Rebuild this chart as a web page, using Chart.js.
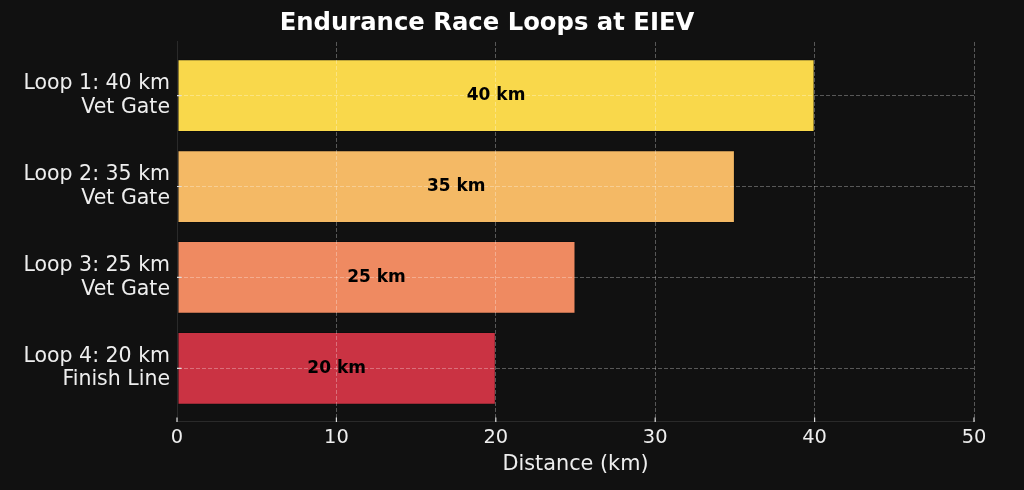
<!DOCTYPE html>
<html>
<head>
<meta charset="utf-8">
<script src="https://cdn.jsdelivr.net/npm/chart.js@4"></script>
<style>
  html, body { margin: 0; padding: 0; background: #111111; }
  #wrap { width: 1024px; height: 490px; }
</style>
</head>
<body>
<div id="wrap"><canvas id="c" width="1024" height="490"></canvas></div>
<script>
const loopNames = ['Loop 1: 40 km', 'Loop 2: 35 km', 'Loop 3: 25 km', 'Loop 4: 20 km'];
const checkpoints = ['Vet Gate', 'Vet Gate', 'Vet Gate', 'Finish Line'];
const distances = [40, 35, 25, 20];
const barLabels = ['40 km', '35 km', '25 km', '20 km'];
const xTicks = [0, 10, 20, 30, 40, 50];
const barColors = ['#F9D84B', '#F4B965', '#EF8A61', '#CA3343'];

const FONT = "'DejaVu Sans', 'Liberation Sans', sans-serif";
const TEXT = '#eeeeee';
const GRID = 'rgba(255,255,255,0.3)';

const overlay = {
  id: 'overlay',
  afterDraw(chart) {
    const ctx = chart.ctx;
    const xs = chart.scales.x, ys = chart.scales.y;
    const area = chart.chartArea;
    ctx.save();
    // inward tick marks
    ctx.strokeStyle = '#dddddd';
    ctx.lineWidth = 1.2;
    ctx.beginPath();
    xTicks.forEach(v => {
      const px = xs.getPixelForValue(v);
      ctx.moveTo(px, area.bottom);
      ctx.lineTo(px, area.bottom - 4.5);
    });
    loopNames.forEach((n, i) => {
      const py = ys.getPixelForValue(i);
      ctx.moveTo(area.left, py);
      ctx.lineTo(area.left + 4.5, py);
    });
    ctx.stroke();
    // bar value labels
    ctx.fillStyle = '#000000';
    ctx.font = "bold 17px " + FONT;
    ctx.textAlign = 'center';
    ctx.textBaseline = 'middle';
    chart.getDatasetMeta(0).data.forEach((el, i) => {
      ctx.fillText(barLabels[i], (el.x + el.base) / 2, el.y);
    });
    ctx.restore();
  }
};

new Chart(document.getElementById('c'), {
  type: 'bar',
  data: {
    datasets: [{
      data: distances.map((d, i) => ({ x: d, y: i })),
      backgroundColor: barColors,
      borderColor: 'rgba(0,0,0,0.2)',
      borderWidth: 1,
      borderSkipped: false,
      barPercentage: 0.8,
      categoryPercentage: 1.0
    }]
  },
  options: {
    indexAxis: 'y',
    responsive: false,
    animation: false,
    devicePixelRatio: 1,
    layout: { padding: { left: 0, right: 50, top: 0, bottom: 0 } },
    plugins: {
      legend: { display: false },
      tooltip: { enabled: false },
      title: {
        display: true,
        text: 'Endurance Race Loops at EIEV',
        color: '#ffffff',
        font: { family: FONT, size: 24.3, weight: 'bold', lineHeight: 1.2 },
        padding: { top: 9.4, bottom: 3.4 }
      }
    },
    scales: {
      x: {
        type: 'linear',
        position: 'bottom',
        min: 0, max: 50,
        afterBuildTicks: s => { s.ticks = xTicks.map(v => ({ value: v })); },
        afterFit: s => { s.height = 68; },
        ticks: {
          color: TEXT,
          font: { family: FONT, size: 19.4 },
          padding: 4,
          maxRotation: 0
        },
        grid: { color: GRID, lineWidth: 1, drawTicks: false, z: 1 },
        border: { display: true, color: '#2a2a2a', width: 1, dash: [4, 2], z: 1 },
        title: {
          display: true,
          text: 'Distance (km)',
          color: TEXT,
          font: { family: FONT, size: 20.8, lineHeight: 1.2 },
          padding: { top: 0, bottom: 12.5 }
        }
      },
      y: {
        type: 'linear',
        position: 'left',
        reverse: true,
        offset: false,
        min: -0.59, max: 3.59,
        afterBuildTicks: s => { s.ticks = loopNames.map((n, i) => ({ value: i })); },
        afterFit: s => { s.width = 177; },
        ticks: {
          color: TEXT,
          font: { family: FONT, size: 20.5, lineHeight: 1.15 },
          padding: 7,
          autoSkip: false,
          callback: v => [loopNames[v], checkpoints[v]]
        },
        grid: { color: GRID, lineWidth: 1, drawTicks: false, offset: false, z: 1 },
        border: { display: true, color: '#2a2a2a', width: 1, dash: [4, 2], z: 1 }
      }
    }
  },
  plugins: [overlay]
});
</script>
</body>
</html>
